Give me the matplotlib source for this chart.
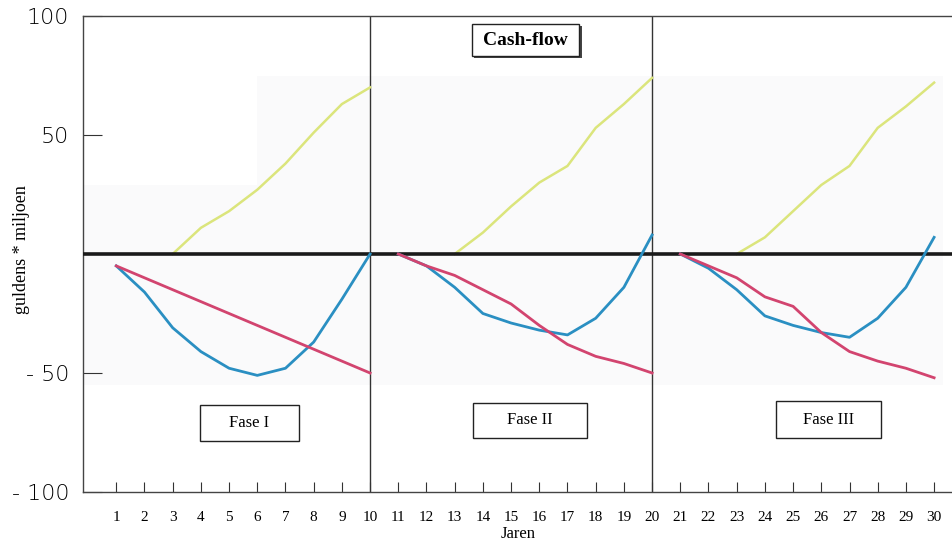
import numpy as np
import matplotlib
matplotlib.use('Agg')
import matplotlib.pyplot as plt
from matplotlib.patches import Rectangle

# ------------------------ DATA
years_1 = [1, 2, 3, 4, 5, 6, 7, 8, 9, 10]
years_2 = [11, 12, 13, 14, 15, 16, 17, 18, 19, 20]
years_3 = [21, 22, 23, 24, 25, 26, 27, 28, 29, 30]

blue_1 = [-5, -16, -31, -41, -48, -51, -48, -37, -19, 0]
blue_2 = [0, -5, -14, -25, -29, -32, -34, -27, -14, 8]
blue_3 = [0, -6, -15, -26, -30, -33, -35, -27, -14, 7]

red_1 = [-5, -10, -15, -20, -25, -30, -35, -40, -45, -50]
red_2 = [0, -5, -9, -15, -21, -30, -38, -43, -46, -50]
red_3 = [0, -5, -10, -18, -22, -33, -41, -45, -48, -52]

green_x1 = [3, 4, 5, 6, 7, 8, 9, 10]
green_1 = [0, 11, 18, 27, 38, 51, 63, 70]
green_x2 = [13, 14, 15, 16, 17, 18, 19, 20]
green_2 = [0, 9, 20, 30, 37, 53, 63, 74]
green_x3 = [23, 24, 25, 26, 27, 28, 29, 30]
green_3 = [0, 7, 18, 29, 37, 53, 62, 72]

x_ticks = list(range(1, 31))
y_ticks = [100, 50, -50, -100]
y_ticklabels = ['100', '50', '- 50', '- 100']
phases = ['Fase I', 'Fase II', 'Fase III']

BLUE = '#2a8fc2'
RED = '#d2446f'
GREEN = '#dbe57c'
SERIF = 'Liberation Serif'

my_dpi = 100
fig = plt.figure(figsize=(953 / my_dpi, 540 / my_dpi), dpi=my_dpi)
ax = fig.add_axes([83 / 953, 48 / 540, 870 / 953, 476 / 540])
ax.set_xlim(-0.18, 30.67)
ax.set_ylim(-100, 100)

# faint gray background of the pasted graph
ax.add_patch(Rectangle((6.0, -55), 24.3, 130, facecolor='#fafafb', edgecolor='none', zorder=0))
ax.add_patch(Rectangle((-0.18, -55), 30.5, 84, facecolor='#fafafb', edgecolor='none', zorder=0))

# phase dividers and zero line
for xv in [10, 20]:
    ax.axvline(xv, color='#333333', lw=1.0, zorder=1)
ax.axhline(0, color='#1a1a1a', lw=2.6, zorder=3)

for xs, ys in [(years_1, blue_1), (years_2, blue_2), (years_3, blue_3)]:
    ax.plot(xs, ys, color=BLUE, lw=2.0, zorder=4)
for xs, ys in [(years_1, red_1), (years_2, red_2), (years_3, red_3)]:
    ax.plot(xs, ys, color=RED, lw=2.0, zorder=4)
for xs, ys in [(green_x1, green_1), (green_x2, green_2), (green_x3, green_3)]:
    ax.plot(xs, ys, color=GREEN, lw=1.8, zorder=2)

# boxes with labels
def label_box(x0, x1, y0, y1, text, shadow=False, **kw):
    if shadow:
        ax.add_patch(Rectangle((x0 + 0.1, y0 - 1.0), x1 - x0, y1 - y0, facecolor='#444444',
                               edgecolor='none', zorder=5))
    ax.add_patch(Rectangle((x0, y0), x1 - x0, y1 - y0, facecolor='white',
                           edgecolor='#222222', lw=1.0, zorder=5))
    ax.text((x0 + x1) / 2, (y0 + y1) / 2, text, ha='center', va='center',
            family=SERIF, zorder=6, **kw)

label_box(13.6, 17.4, 83.2, 96.6, 'Cash-flow', shadow=True, fontsize=14, fontweight='bold')
label_box(3.97, 7.48, -78.6, -63.4, phases[0], fontsize=12)
label_box(13.65, 17.7, -77.3, -62.6, phases[1], fontsize=12)
label_box(24.4, 28.1, -77.3, -61.8, phases[2], fontsize=12)

# axes styling
ax.spines['right'].set_visible(False)
for s in ['left', 'top', 'bottom']:
    ax.spines[s].set_color('#444444')
    ax.spines[s].set_linewidth(1.0)

ax.set_xticks(x_ticks)
ax.set_xticklabels([str(v) for v in x_ticks], family=SERIF, fontsize=11)
ax.tick_params(axis='x', direction='in', length=7, pad=14, color='#333333')

ax.set_yticks(y_ticks)
ax.set_yticklabels(y_ticklabels, fontsize=16, family='DejaVu Sans', fontweight='light')
ax.tick_params(axis='y', direction='in', length=14, pad=10, color='#333333')

ax.set_xlabel('Jaren', family=SERIF, fontsize=12, labelpad=1)
ax.set_ylabel('guldens * miljoen', family=SERIF, fontsize=13)
ax.yaxis.set_label_coords(-0.061, 0.51)

fig.savefig('out.png', dpi=my_dpi, facecolor='white')
plt.close(fig)
